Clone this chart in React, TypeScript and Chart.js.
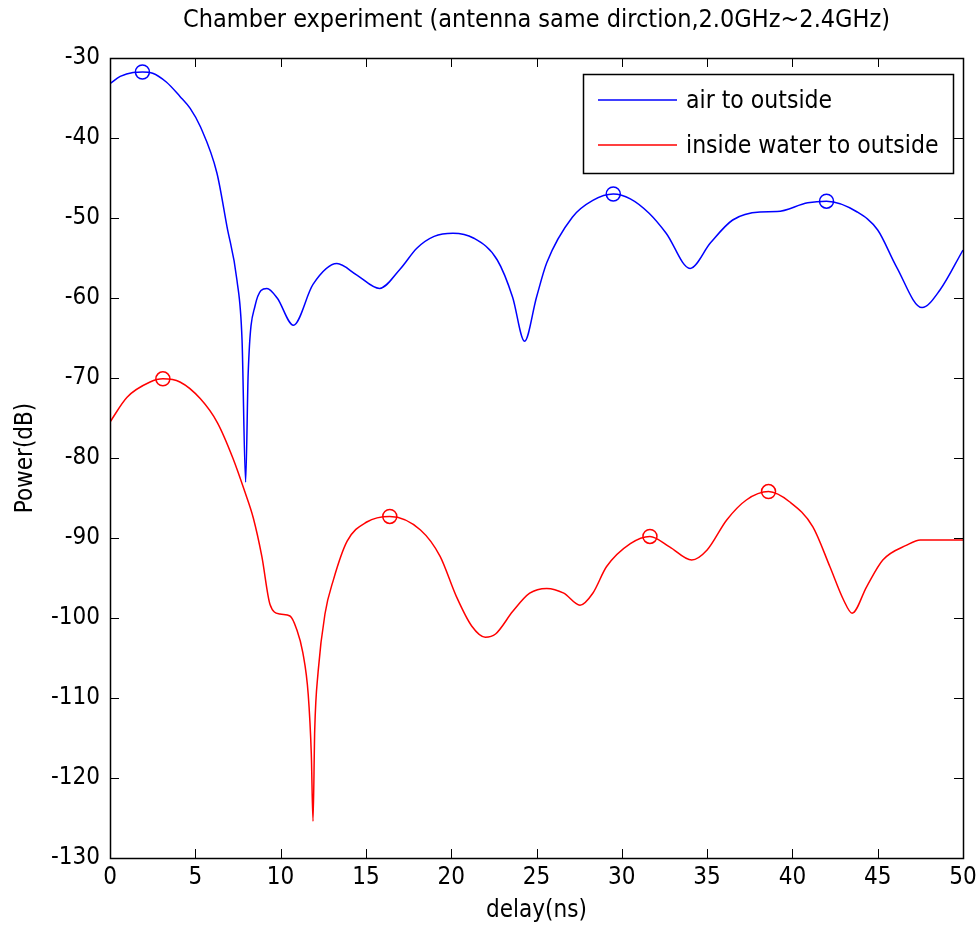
import React, { useEffect, useRef } from "react";
import { Chart, registerables } from "chart.js";

Chart.register(...registerables);

const TITLE = "Chamber experiment (antenna same dirction,2.0GHz~2.4GHz)";
const X_LABEL = "delay(ns)";
const Y_LABEL = "Power(dB)";
const SERIES_NAMES = ["air to outside", "inside water to outside"];

const airDelay = [0, 0.6, 1.35, 1.9, 2.5, 3.3, 4.1, 4.7, 5.3, 6.27, 6.86, 7.44, 7.74, 7.95, 8.1, 8.5, 9.2, 9.8, 10.75, 11.9, 13.3, 14.45, 15.8, 17, 18, 19, 20.1, 21.3, 22.7, 23.6, 24.3, 25, 25.6, 27.1, 28.3, 29.5, 30.5, 31.6, 32.6, 34, 35.2, 36.5, 38.1, 39.1, 40.9, 42, 43.8, 45, 46.1, 47.6, 48.65, 50];
const airPower = [-33.2, -32.3, -31.8, -31.75, -31.9, -33, -34.8, -36.3, -38.6, -44.4, -51.1, -57.75, -65.25, -83, -69.4, -61, -58.8, -60, -63.4, -58.3, -55.7, -57.1, -58.8, -56.4, -53.75, -52.3, -51.9, -52.5, -55.25, -59.9, -65.4, -59.9, -55.6, -49.9, -47.8, -47, -47.6, -49.4, -51.9, -56.3, -53.1, -50.25, -49.25, -49.2, -48.1, -47.9, -49.25, -51.5, -56.1, -61.2, -59, -54];

const waterDelay = [0, 1, 2.35, 3.1, 4.1, 5.3, 6.3, 7.2, 7.9, 8.4, 8.9, 9.38, 9.96, 10.55, 10.94, 11.3, 11.62, 11.8, 11.9, 12.0, 12.2, 12.6, 13.1, 13.9, 15.05, 16.4, 18.2, 19.35, 20.3, 21.2, 22, 22.6, 23.6, 24.6, 25.6, 26.6, 27.55, 28.3, 29.1, 30.5, 31.65, 32.8, 34.1, 35, 36.15, 37.3, 38.6, 39.85, 41.2, 42.2, 43, 43.5, 44.35, 45.3, 46.7, 47.5, 50];
const waterPower = [-75.5, -72.4, -70.5, -70.1, -70.5, -72.6, -75.6, -80, -84.2, -87.5, -92.3, -98.3, -99.5, -99.75, -101.4, -104.3, -109.6, -117, -125.4, -114, -106.7, -99.5, -95.2, -90.4, -88, -87.3, -89, -92.3, -97.3, -101, -102.4, -102, -99.2, -96.9, -96.3, -96.9, -98.4, -96.9, -93.6, -90.7, -89.8, -91.1, -92.75, -91.5, -87.75, -85.25, -84.2, -85.5, -88.6, -93.6, -97.75, -99.4, -96.1, -92.75, -90.9, -90.25, -90.25];

const airPeakDelay = [1.9, 29.5, 42];
const airPeakPower = [-31.75, -47, -47.9];
const waterPeakDelay = [3.1, 16.4, 31.65, 38.6];
const waterPeakPower = [-70.1, -87.3, -89.8, -84.2];

const xTicks = [0, 5, 10, 15, 20, 25, 30, 35, 40, 45, 50];
const yTicks = [-130, -120, -110, -100, -90, -80, -70, -60, -50, -40, -30];

const BLUE = "#0000ff";
const RED = "#ff0000";
const FONT = "'DejaVu Sans Condensed', 'Liberation Sans Narrow', Arial, sans-serif";

const zip = (xs: number[], ys: number[]) => xs.map((x, i) => ({ x, y: ys[i] }));

const framePlugin = {
  id: "matlabFrame",
  afterDraw(chart: any) {
    const { ctx, chartArea } = chart;
    const { left, right, top, bottom } = chartArea;
    const xs = chart.scales.x;
    const ys = chart.scales.y;
    const L = 9;
    ctx.save();

    // title centred over the axes
    ctx.fillStyle = "#000";
    ctx.font = "25px " + FONT;
    ctx.textAlign = "center";
    ctx.textBaseline = "middle";
    ctx.fillText(TITLE, (left + right) / 2, top - 38);

    ctx.strokeStyle = "#000";
    ctx.lineWidth = 1;
    ctx.beginPath();
    xTicks.forEach((v) => {
      const px = Math.round(xs.getPixelForValue(v)) + 0.5;
      ctx.moveTo(px, bottom);
      ctx.lineTo(px, bottom - L);
      ctx.moveTo(px, top);
      ctx.lineTo(px, top + L);
    });
    yTicks.forEach((v) => {
      const py = Math.round(ys.getPixelForValue(v)) + 0.5;
      ctx.moveTo(left, py);
      ctx.lineTo(left + L, py);
      ctx.moveTo(right, py);
      ctx.lineTo(right - L, py);
    });
    ctx.stroke();
    ctx.lineWidth = 1.5;
    ctx.strokeRect(Math.round(left) + 0.5, Math.round(top) + 0.5, Math.round(right - left), Math.round(bottom - top));

    // legend
    const bx = right - 380;
    const by = top + 16;
    const bw = 370;
    const bh = 99;
    ctx.fillStyle = "#fff";
    ctx.fillRect(bx, by, bw, bh);
    ctx.lineWidth = 1.5;
    ctx.strokeStyle = "#000";
    ctx.strokeRect(bx + 0.5, by + 0.5, bw, bh);
    const colors = [BLUE, RED];
    ctx.font = "24.5px " + FONT;
    ctx.textBaseline = "middle";
    ctx.textAlign = "left";
    SERIES_NAMES.forEach((name, i) => {
      const ly = by + 26 + i * 45;
      ctx.strokeStyle = colors[i];
      ctx.lineWidth = 1.5;
      ctx.beginPath();
      ctx.moveTo(bx + 15, ly);
      ctx.lineTo(bx + 94, ly);
      ctx.stroke();
      ctx.fillStyle = "#000";
      ctx.fillText(name, bx + 103, ly + 2);
    });
    ctx.restore();
  },
};

export default function App() {
  const ref = useRef<HTMLCanvasElement | null>(null);
  useEffect(() => {
    if (!ref.current) return;
    const chart = new Chart(ref.current, {
      type: "line",
      data: {
        datasets: [
          {
            label: SERIES_NAMES[0],
            data: zip(airDelay, airPower),
            borderColor: BLUE,
            borderWidth: 1.5,
            pointRadius: 0,
            cubicInterpolationMode: "monotone",
            fill: false,
          },
          {
            label: SERIES_NAMES[1],
            data: zip(waterDelay, waterPower),
            borderColor: RED,
            borderWidth: 1.5,
            pointRadius: 0,
            cubicInterpolationMode: "monotone",
            fill: false,
          },
          {
            label: "air peaks",
            data: zip(airPeakDelay, airPeakPower),
            showLine: false,
            pointStyle: "circle",
            pointRadius: 7,
            pointBorderWidth: 1.5,
            pointBorderColor: BLUE,
            pointBackgroundColor: "rgba(0,0,0,0)",
            borderColor: BLUE,
          },
          {
            label: "water peaks",
            data: zip(waterPeakDelay, waterPeakPower),
            showLine: false,
            pointStyle: "circle",
            pointRadius: 7,
            pointBorderWidth: 1.5,
            pointBorderColor: RED,
            pointBackgroundColor: "rgba(0,0,0,0)",
            borderColor: RED,
          },
        ],
      },
      options: {
        animation: false,
        responsive: true,
        maintainAspectRatio: false,
        layout: { padding: { left: 0, right: 16, top: 58, bottom: 0 } },
        plugins: {
          legend: { display: false },
          tooltip: { enabled: false },
          title: { display: false },
        },
        scales: {
          x: {
            type: "linear",
            min: 0,
            max: 50,
            afterBuildTicks: (s: any) => {
              s.ticks = xTicks.map((v) => ({ value: v }));
            },
            afterFit: (s: any) => {
              s.height = 82;
              s.paddingLeft = 0;
              s.paddingRight = 0;
            },
            grid: { display: false, drawTicks: false },
            border: { display: false },
            ticks: {
              color: "#000",
              padding: 5,
              font: { family: FONT, size: 24 },
              maxRotation: 0,
            },
            title: {
              display: true,
              text: X_LABEL,
              color: "#000",
              font: { family: FONT, size: 24 },
              padding: { top: 0, bottom: 15 },
            },
          },
          y: {
            type: "linear",
            min: -130,
            max: -30,
            afterBuildTicks: (s: any) => {
              s.ticks = yTicks.map((v) => ({ value: v }));
            },
            afterFit: (s: any) => {
              s.width = 110;
              s.paddingTop = 0;
              s.paddingBottom = 0;
            },
            grid: { display: false, drawTicks: false },
            border: { display: false },
            ticks: {
              color: "#000",
              padding: 10,
              font: { family: FONT, size: 24 },
            },
            title: {
              display: true,
              text: Y_LABEL,
              color: "#000",
              font: { family: FONT, size: 24 },
              padding: { top: 11, bottom: 0 },
            },
          },
        },
      },
      plugins: [framePlugin],
    } as any);
    return () => chart.destroy();
  }, []);
  return (
    <div style={{ position: "fixed", left: 0, top: 0, width: 979, height: 940, background: "#fff" }}>
      <canvas ref={ref} />
    </div>
  );
}
